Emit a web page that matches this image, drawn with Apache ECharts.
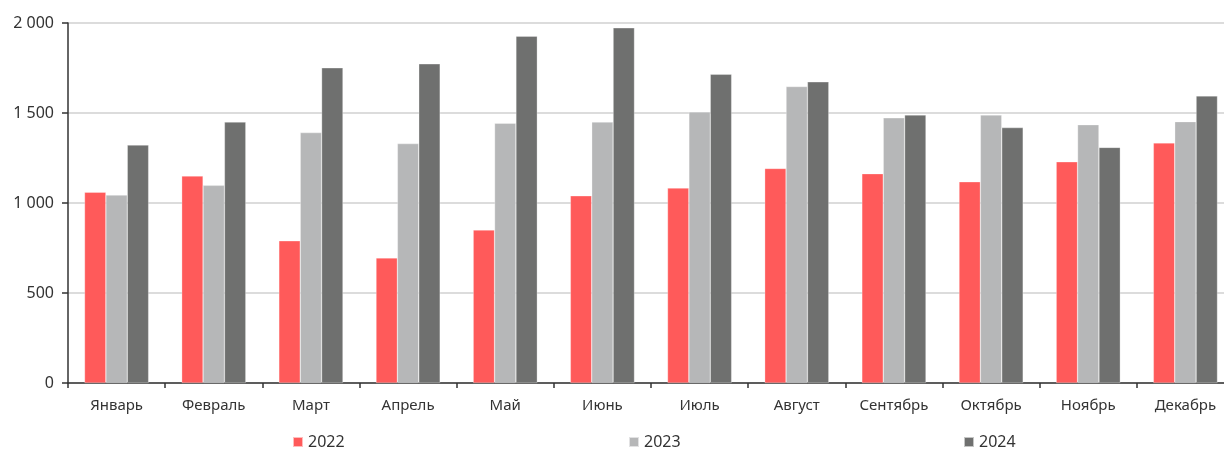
<!DOCTYPE html>
<html>
<head>
<meta charset="utf-8">
<script src="https://cdn.jsdelivr.net/npm/echarts@6/dist/echarts.min.js"></script>
<style>
  html, body { margin: 0; padding: 0; background: #fff; overflow: hidden; }
  #chart { width: 1240px; height: 449px; }
</style>
</head>
<body>
<div id="chart"></div>
<script>
// Monthly values by year
const months = ['Январь', 'Февраль', 'Март', 'Апрель', 'Май', 'Июнь', 'Июль', 'Август', 'Сентябрь', 'Октябрь', 'Ноябрь', 'Декабрь'];
const years = ['2022', '2023', '2024'];
const values2022 = [1060, 1150, 790, 695, 850, 1040, 1083, 1192, 1163, 1118, 1229, 1334];
const values2023 = [1044, 1098, 1391, 1330, 1443, 1450, 1506, 1647, 1473, 1489, 1435, 1452];
const values2024 = [1322, 1450, 1751, 1773, 1927, 1973, 1715, 1673, 1489, 1419, 1309, 1595];
const yTicks = [0, 500, 1000, 1500, 2000];

const colors = ['#FF5A5A', '#B6B7B8', '#6F706F'];
const seriesData = [values2022, values2023, values2024];
const fontFamily = '"Noto Sans", "Open Sans", sans-serif';

function fmt(v) {
  return String(v).replace(/\B(?=(\d{3})+(?!\d))/g, ' ');
}

const legendLeft = [292, 628, 963];

const chart = echarts.init(document.getElementById('chart'), null, { renderer: 'canvas' });
chart.setOption({
  animation: false,
  backgroundColor: '#fff',
  color: colors,
  // plot runs slightly past the right edge of the visible area
  grid: { left: 68, top: 23, width: 1166, height: 360, containLabel: false },
  legend: years.map((y, i) => ({
    data: [y],
    left: legendLeft[i],
    top: 434,
    padding: 0,
    icon: 'rect',
    itemWidth: 10,
    itemHeight: 10,
    textStyle: { fontFamily, fontSize: 16, color: '#333' }
  })),
  xAxis: {
    type: 'category',
    data: months,
    axisLine: { lineStyle: { color: '#333', width: 1.5 } },
    axisTick: { show: true, length: 5, lineStyle: { color: '#333', width: 1.5 } },
    axisLabel: { fontFamily, fontSize: 15, color: '#333', margin: 15, interval: 0 }
  },
  yAxis: {
    type: 'value',
    min: yTicks[0],
    max: yTicks[yTicks.length - 1],
    interval: 500,
    axisLine: { show: true, lineStyle: { color: '#333', width: 1.5 } },
    axisTick: { show: true, length: 6, lineStyle: { color: '#333', width: 1.5 } },
    axisLabel: { fontFamily, fontSize: 16, color: '#333', margin: 14, formatter: fmt },
    splitLine: { show: true, lineStyle: { color: '#D0D0D0', width: 1.5 } }
  },
  series: years.map((y, i) => ({
    name: y,
    type: 'bar',
    data: seriesData[i],
    barGap: '0%',
    barCategoryGap: '34%',
    itemStyle: { color: colors[i], borderColor: 'rgba(255,255,255,0.6)', borderWidth: 0.5 }
  }))
});
</script>
</body>
</html>
